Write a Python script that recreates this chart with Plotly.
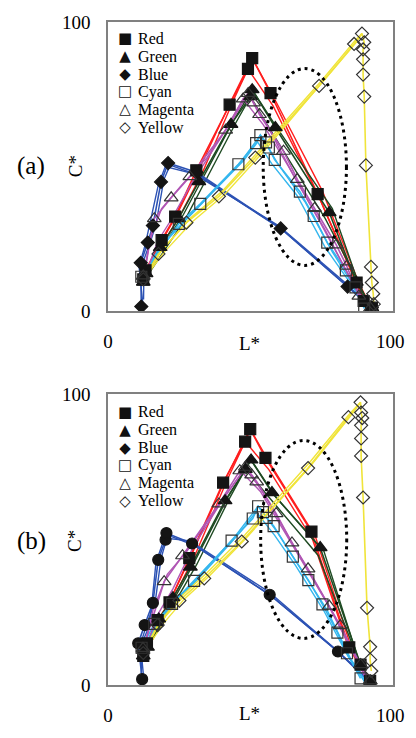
import plotly.graph_objects as go

# ---------------- data: panel (a) ----------------
RED_A_L = [12.5, 13.3, 19.0, 23.8, 31.3, 43.1, 49.6, 51.1, 57.6, 74.3, 88.1, 90.6, 93.5]
RED_A_C = [11.0, 14.1, 24.6, 32.7, 48.7, 71.4, 83.8, 87.5, 75.4, 40.5, 9.9, 3.5, 1.2]
RED_A_V1_L = [12.8, 17.5, 24.5, 32.5, 43.5, 51.1, 59.5, 76.0, 89.0, 93.5]
RED_A_V1_C = [11.5, 21.5, 33.5, 49.5, 72.5, 87.5, 72.5, 41.5, 9.5, 1.0]
RED_A_V2_L = [13.5, 19.5, 25.5, 33.5, 44.5, 49.6, 58.5, 75.0, 88.5, 93.0]
RED_A_V2_C = [12.0, 23.5, 33.0, 48.0, 73.0, 83.8, 71.0, 39.0, 8.5, 1.0]

GREEN_A_L = [12.5, 13.5, 18.5, 25.0, 32.2, 43.6, 50.5, 51.1, 59.3, 78.4, 88.0, 93.5]
GREEN_A_C = [10.0, 13.0, 22.0, 32.0, 44.8, 64.6, 74.2, 76.6, 63.5, 34.1, 10.0, 1.2]
GREEN_A_V1_L = [13.0, 19.5, 26.5, 33.5, 44.5, 51.1, 60.5, 79.5, 89.0, 93.5]
GREEN_A_V1_C = [11.0, 22.5, 33.0, 46.0, 66.0, 76.6, 62.5, 35.5, 9.0, 1.0]
GREEN_A_V2_L = [13.8, 20.5, 27.5, 34.5, 45.5, 50.5, 58.0, 77.0, 88.5, 93.0]
GREEN_A_V2_C = [12.0, 22.0, 32.0, 45.0, 65.5, 74.2, 62.0, 32.0, 10.5, 1.0]

BLUE_A_L = [11.8, 11.6, 14.1, 15.9, 18.8, 21.3, 31.3, 61.2, 84.9, 93.5]
BLUE_A_C = [1.6, 16.7, 23.7, 29.6, 44.7, 51.2, 48.0, 28.6, 8.5, 1.2]
BLUE_A_V1_L = [12.3, 11.0, 13.2, 15.0, 17.8, 20.3, 30.5, 60.5, 84.5, 93.0]
BLUE_A_V1_C = [3.0, 15.5, 23.0, 31.0, 43.5, 50.0, 47.5, 29.5, 9.5, 1.0]
BLUE_A_V2_L = [12.6, 12.8, 15.2, 17.0, 19.8, 22.0, 32.0, 62.0, 85.5, 93.5]
BLUE_A_V2_C = [4.0, 18.0, 24.5, 30.0, 45.5, 50.5, 47.0, 28.0, 8.0, 1.0]

CYAN_A_L = [11.8, 25.1, 32.7, 46.2, 52.5, 54.0, 56.0, 57.0, 59.1, 68.0, 72.9, 77.7, 84.3, 87.7, 90.8]
CYAN_A_C = [11.9, 30.2, 37.1, 50.8, 58.1, 60.9, 58.4, 56.6, 52.3, 41.3, 32.9, 23.7, 14.1, 8.2, 0.9]
CYAN_A_V1_L = [12.5, 18.5, 26.0, 34.0, 47.0, 54.0, 60.5, 70.0, 79.5, 88.0, 92.0]
CYAN_A_V1_C = [12.5, 22.5, 30.0, 38.0, 51.5, 60.9, 50.5, 37.5, 20.5, 7.0, 1.0]
CYAN_A_V2_L = [13.0, 19.5, 27.0, 35.0, 48.0, 53.0, 58.0, 67.0, 77.0, 86.0, 91.5]
CYAN_A_V2_C = [13.0, 23.0, 31.0, 39.0, 52.0, 58.5, 51.0, 40.0, 22.0, 9.5, 1.0]

MAGENTA_A_L = [12.5, 16.4, 22.4, 29.0, 41.7, 47.9, 49.7, 51.6, 53.7, 62.2, 67.1, 73.2, 80.9, 84.6, 88.9, 93.0]
MAGENTA_A_C = [12.2, 32.0, 39.2, 46.5, 62.6, 73.4, 75.3, 72.0, 68.0, 55.3, 45.6, 35.5, 22.9, 15.6, 5.2, 1.0]
MAGENTA_A_V1_L = [13.0, 15.0, 19.0, 26.0, 35.0, 44.0, 49.7, 56.0, 66.0, 77.0, 86.0, 92.5]
MAGENTA_A_V1_C = [13.0, 25.0, 35.5, 43.5, 53.0, 66.0, 75.3, 65.0, 46.5, 28.0, 11.0, 1.0]
MAGENTA_A_V2_L = [13.5, 17.5, 22.0, 29.5, 40.0, 47.9, 55.0, 64.0, 75.0, 85.0, 92.0]
MAGENTA_A_V2_C = [13.0, 24.0, 31.0, 44.0, 60.0, 73.4, 64.5, 50.0, 31.0, 13.0, 1.0]

YELLOW_A_L = [12.5, 17.9, 27.8, 39.3, 52.2, 74.8, 87.2, 90.0, 90.8, 90.4, 90.4, 90.4, 90.8, 91.4, 93.2, 93.5, 94.0, 94.2]
YELLOW_A_C = [11.0, 19.8, 30.6, 39.7, 53.1, 77.9, 92.4, 96.0, 93.0, 90.5, 87.1, 81.8, 74.2, 50.4, 15.3, 9.9, 6.0, 2.4]
YELLOW_A_V1_L = [13.0, 20.0, 30.0, 41.5, 54.5, 76.0, 88.0, 90.0]
YELLOW_A_V1_C = [11.5, 20.5, 31.0, 40.5, 54.5, 79.0, 93.0, 96.0]
YELLOW_A_V2_L = [13.5, 19.0, 29.0, 40.5, 53.5, 75.5, 87.5, 90.0]
YELLOW_A_V2_C = [12.0, 21.0, 32.0, 41.5, 55.5, 79.5, 93.5, 96.0]

# ---------------- data: panel (b) ----------------
RED_B_L = [12.5, 13.8, 17.6, 21.8, 28.8, 40.8, 48.6, 50.4, 55.8, 72.1, 85.5, 89.5, 92.9]
RED_B_C = [10.0, 14.3, 22.3, 28.4, 43.6, 69.5, 83.6, 87.9, 78.0, 52.7, 12.9, 7.0, 1.4]
RED_B_V1_L = [13.0, 17.0, 22.5, 30.0, 41.5, 50.4, 57.5, 73.5, 86.5, 92.9]
RED_B_V1_C = [11.0, 20.0, 30.0, 45.5, 70.5, 87.9, 76.0, 51.0, 12.0, 1.0]
RED_B_V2_L = [13.8, 18.5, 23.5, 31.0, 42.5, 48.6, 57.0, 72.5, 85.0, 92.5]
RED_B_V2_C = [11.5, 22.0, 30.5, 45.0, 71.0, 83.6, 74.0, 50.0, 13.5, 1.0]

GREEN_B_L = [12.5, 14.0, 18.0, 23.0, 29.2, 41.5, 48.7, 50.7, 58.1, 75.2, 89.5, 92.9]
GREEN_B_C = [10.0, 13.0, 22.7, 30.0, 40.5, 63.3, 74.1, 77.3, 66.1, 47.2, 7.0, 1.4]
GREEN_B_V1_L = [13.0, 18.8, 24.0, 30.5, 42.5, 50.7, 59.5, 76.5, 89.0, 92.9]
GREEN_B_V1_C = [11.0, 22.0, 30.5, 42.0, 64.5, 77.3, 64.5, 46.0, 8.0, 1.0]
GREEN_B_V2_L = [13.8, 19.5, 25.0, 31.5, 43.0, 48.7, 57.5, 74.5, 88.5, 92.5]
GREEN_B_V2_C = [12.0, 22.5, 30.5, 41.5, 64.0, 74.1, 64.0, 44.5, 9.0, 1.0]

BLUE_B_L = [12.1, 10.7, 13.0, 15.9, 17.8, 20.4, 20.7, 29.8, 57.3, 81.5, 92.8]
BLUE_B_C = [2.0, 14.3, 20.6, 28.2, 43.0, 49.9, 52.2, 48.6, 31.0, 11.5, 1.3]
BLUE_B_V1_L = [12.6, 11.5, 13.8, 16.8, 18.8, 21.2, 30.5, 58.0, 82.0, 92.5]
BLUE_B_V1_C = [3.0, 14.0, 21.0, 29.0, 43.5, 51.5, 48.0, 30.5, 11.0, 1.0]
BLUE_B_V2_L = [11.8, 12.3, 14.5, 15.5, 17.0, 20.0, 29.0, 57.0, 81.0, 93.0]
BLUE_B_V2_C = [4.0, 15.0, 20.0, 27.5, 42.0, 50.5, 49.5, 32.0, 12.0, 1.0]

CYAN_B_L = [11.9, 16.4, 22.7, 30.5, 43.8, 51.3, 53.2, 54.9, 56.2, 58.7, 65.5, 71.0, 76.0, 81.3, 84.7, 89.5]
CYAN_B_C = [12.8, 21.0, 27.9, 35.8, 49.6, 57.2, 61.4, 59.4, 57.4, 54.6, 44.1, 36.0, 27.7, 18.0, 10.9, 2.3]
CYAN_B_V1_L = [12.5, 18.0, 24.0, 32.0, 45.0, 53.2, 60.0, 67.0, 77.5, 86.0, 91.5]
CYAN_B_V1_C = [13.0, 22.0, 29.0, 37.0, 51.0, 61.4, 52.5, 42.0, 26.0, 9.0, 1.0]
CYAN_B_V2_L = [13.0, 19.0, 25.0, 33.0, 46.0, 52.5, 59.0, 66.5, 76.5, 85.0, 91.0]
CYAN_B_V2_C = [13.5, 22.5, 29.5, 37.5, 51.5, 59.5, 51.5, 41.0, 25.5, 10.0, 1.0]

MAGENTA_B_L = [12.4, 19.9, 26.4, 39.3, 46.7, 48.7, 50.9, 52.7, 59.6, 65.2, 70.9, 78.4, 82.3, 89.5, 92.9]
MAGENTA_B_C = [12.6, 35.5, 44.4, 62.2, 73.6, 74.8, 72.2, 69.8, 58.9, 48.8, 39.9, 27.1, 20.4, 7.0, 1.4]
MAGENTA_B_V1_L = [13.0, 16.0, 21.0, 28.0, 38.0, 48.7, 55.0, 66.0, 79.0, 89.0, 92.5]
MAGENTA_B_V1_C = [13.0, 26.0, 38.0, 46.0, 60.0, 74.8, 66.0, 47.5, 26.0, 7.5, 1.0]
MAGENTA_B_V2_L = [13.5, 17.5, 23.0, 30.0, 40.5, 47.5, 54.0, 65.5, 78.0, 88.5, 92.0]
MAGENTA_B_V2_C = [13.0, 24.0, 33.0, 47.0, 63.5, 73.0, 66.5, 48.0, 27.5, 8.0, 1.0]

YELLOW_B_L = [12.5, 17.6, 25.3, 34.1, 47.4, 70.9, 85.2, 89.5, 89.7, 90.1, 89.7, 89.7, 89.7, 90.4, 91.8, 92.9, 92.9, 93.3]
YELLOW_B_C = [11.0, 20.6, 29.0, 36.6, 49.3, 74.5, 92.0, 97.1, 93.6, 91.7, 89.2, 84.7, 78.7, 64.4, 26.5, 13.1, 8.7, 4.8]
YELLOW_B_V1_L = [13.0, 19.5, 27.0, 36.0, 49.0, 72.0, 86.0, 89.5]
YELLOW_B_V1_C = [11.5, 21.0, 29.5, 37.5, 50.5, 75.5, 92.5, 97.1]
YELLOW_B_V2_L = [13.5, 18.5, 26.0, 35.0, 48.5, 71.5, 85.5, 89.5]
YELLOW_B_V2_C = [12.0, 22.0, 30.5, 38.5, 51.5, 76.5, 93.0, 97.1]

# highlighted region (ellipse bounds: L0, L1, C0, C1)
ELLIPSE_A = [55.0, 84.5, 15.8, 83.9]
ELLIPSE_B = [54.1, 84.6, 16.0, 84.0]

NAMES = ["Red", "Green", "Blue", "Cyan", "Magenta", "Yellow"]
LEGEND_GLYPHS = ["\u25A0", "\u25B2", "\u25C6", "\u25A1", "\u25B3", "\u25C7"]
X_TICKS = [0, 100]
Y_TICKS = [0, 100]

# ---------------- styles ----------------
LINE_COLORS = {"Red": "#ff1e1e", "Green": "#1e4a22", "Blue": "#2c52b4",
               "Cyan": "#34b6ee", "Magenta": "#b056b4", "Yellow": "#f0e43a"}
SYMBOLS_A = {"Red": "square", "Green": "triangle-up", "Blue": "diamond",
             "Cyan": "square-open", "Magenta": "triangle-up-open", "Yellow": "diamond-open"}
SYMBOLS_B = dict(SYMBOLS_A, Blue="circle")
SIZES = {"square": 11, "triangle-up": 12, "diamond": 10, "circle": 11,
         "square-open": 11, "triangle-up-open": 12, "diamond-open": 10}
SERIF = "Liberation Serif, Times New Roman, serif"

panels = {
    "a": {"Red": (RED_A_L, RED_A_C, [(RED_A_V1_L, RED_A_V1_C), (RED_A_V2_L, RED_A_V2_C)]),
          "Green": (GREEN_A_L, GREEN_A_C, [(GREEN_A_V1_L, GREEN_A_V1_C), (GREEN_A_V2_L, GREEN_A_V2_C)]),
          "Blue": (BLUE_A_L, BLUE_A_C, [(BLUE_A_V1_L, BLUE_A_V1_C), (BLUE_A_V2_L, BLUE_A_V2_C)]),
          "Cyan": (CYAN_A_L, CYAN_A_C, [(CYAN_A_V1_L, CYAN_A_V1_C), (CYAN_A_V2_L, CYAN_A_V2_C)]),
          "Magenta": (MAGENTA_A_L, MAGENTA_A_C, [(MAGENTA_A_V1_L, MAGENTA_A_V1_C), (MAGENTA_A_V2_L, MAGENTA_A_V2_C)]),
          "Yellow": (YELLOW_A_L, YELLOW_A_C, [(YELLOW_A_V1_L, YELLOW_A_V1_C), (YELLOW_A_V2_L, YELLOW_A_V2_C)])},
    "b": {"Red": (RED_B_L, RED_B_C, [(RED_B_V1_L, RED_B_V1_C), (RED_B_V2_L, RED_B_V2_C)]),
          "Green": (GREEN_B_L, GREEN_B_C, [(GREEN_B_V1_L, GREEN_B_V1_C), (GREEN_B_V2_L, GREEN_B_V2_C)]),
          "Blue": (BLUE_B_L, BLUE_B_C, [(BLUE_B_V1_L, BLUE_B_V1_C), (BLUE_B_V2_L, BLUE_B_V2_C)]),
          "Cyan": (CYAN_B_L, CYAN_B_C, [(CYAN_B_V1_L, CYAN_B_V1_C), (CYAN_B_V2_L, CYAN_B_V2_C)]),
          "Magenta": (MAGENTA_B_L, MAGENTA_B_C, [(MAGENTA_B_V1_L, MAGENTA_B_V1_C), (MAGENTA_B_V2_L, MAGENTA_B_V2_C)]),
          "Yellow": (YELLOW_B_L, YELLOW_B_C, [(YELLOW_B_V1_L, YELLOW_B_V1_C), (YELLOW_B_V2_L, YELLOW_B_V2_C)])},
}
axes = {"a": ("x", "y", SYMBOLS_A), "b": ("x2", "y2", SYMBOLS_B)}

fig = go.Figure()

for key in ["a", "b"]:
    xa, ya, symbols = axes[key]
    data = panels[key]
    for name in NAMES:
        L, C, variants = data[name]
        for vl, vc in variants:
            fig.add_trace(go.Scatter(x=vl, y=vc, mode="lines", xaxis=xa, yaxis=ya,
                                     line=dict(color=LINE_COLORS[name], width=1.4),
                                     showlegend=False, hoverinfo="skip"))
        fig.add_trace(go.Scatter(x=L, y=C, mode="lines", xaxis=xa, yaxis=ya,
                                 line=dict(color=LINE_COLORS[name], width=1.6),
                                 showlegend=False, hoverinfo="skip"))
    for name in NAMES:
        L, C, _ = data[name]
        sym = symbols[name]
        is_open = sym.endswith("open")
        fig.add_trace(go.Scatter(
            x=L, y=C, mode="markers", xaxis=xa, yaxis=ya, showlegend=False, name=name,
            marker=dict(symbol=sym, size=SIZES[sym],
                        color="#333333" if is_open else "#141414",
                        line=dict(width=1.2, color="#333333" if is_open else "#141414"))))

for (x0, x1, y0, y1), xr, yr in [(ELLIPSE_A, "x", "y"), (ELLIPSE_B, "x2", "y2")]:
    fig.add_shape(type="circle", xref=xr, yref=yr, x0=x0, x1=x1, y0=y0, y1=y1,
                  line=dict(color="black", width=3, dash="3px,4px"), layer="above")

axis_common = dict(range=[0, 101], showgrid=False, zeroline=False, showline=True,
                   linecolor="#808080", linewidth=1.5, mirror=True,
                   ticks="outside", ticklen=12, tickcolor="rgba(0,0,0,0)",
                   ticklabeloverflow="allow",
                   tickfont=dict(family=SERIF, size=19, color="black"))
yaxis_common = dict(axis_common, range=[0, 100], ticklen=12)

fig.update_layout(
    width=416, height=738,
    margin=dict(l=108, r=14, t=20, b=37),
    paper_bgcolor="white", plot_bgcolor="white",
    showlegend=False,
    xaxis=dict(axis_common, domain=[0, 1], anchor="y", tickvals=X_TICKS),
    yaxis=dict(yaxis_common, domain=[0.5639, 1], anchor="x", tickvals=Y_TICKS),
    xaxis2=dict(axis_common, domain=[0, 1], anchor="y2", tickvals=X_TICKS),
    yaxis2=dict(yaxis_common, domain=[0, 0.4391], anchor="x2", tickvals=Y_TICKS),
)

def px_x(px):
    return (px - 108) / 294

def px_y(py):
    return (701 - py) / 681

ann = []
for label, ypx in [("(a)", 168), ("(b)", 553)]:
    ann.append(dict(text=label, xref="paper", yref="paper", x=px_x(29), y=px_y(ypx),
                    xanchor="center", yanchor="middle",
                    showarrow=False, font=dict(family=SERIF, size=25, color="black")))
    ann.append(dict(text="C*", xref="paper", yref="paper", x=px_x(74), y=px_y(ypx),
                    xanchor="center", yanchor="middle",
                    showarrow=False, textangle=-90, font=dict(family=SERIF, size=19, color="black")))
for ypx in [350, 730]:
    ann.append(dict(text="L*", xref="paper", yref="paper", x=px_x(254), y=px_y(ypx),
                    xanchor="center", yanchor="middle", showarrow=False,
                    font=dict(family=SERIF, size=19, color="black")))

# legends: one column of symbols and one column of names per panel.
# Base font size sets the row pitch (1.3 x 13.7 = 17.8 px); spans set the glyph size.
ROW_FONT = 13.7
for top in [38, 421.5]:
    centre = top + 2.5 * 17.8
    glyph_text = "<br>".join('<span style="font-size:15px">%s</span>' % g for g in LEGEND_GLYPHS)
    name_text = "<br>".join('<span style="font-size:16px">%s</span>' % n for n in NAMES)
    ann.append(dict(text=glyph_text, xref="paper", yref="paper", x=px_x(126), y=px_y(centre),
                    xanchor="center", yanchor="middle", align="center", showarrow=False,
                    font=dict(family="DejaVu Sans", size=ROW_FONT, color="#111111")))
    ann.append(dict(text=name_text, xref="paper", yref="paper", x=px_x(137), y=px_y(centre),
                    xanchor="left", yanchor="middle", align="left", showarrow=False,
                    font=dict(family=SERIF, size=ROW_FONT, color="black")))
fig.update_layout(annotations=ann)

fig.write_html("out.html", config={"displayModeBar": False},
               post_script="document.body.style.margin='0';document.body.style.overflow='hidden';")
